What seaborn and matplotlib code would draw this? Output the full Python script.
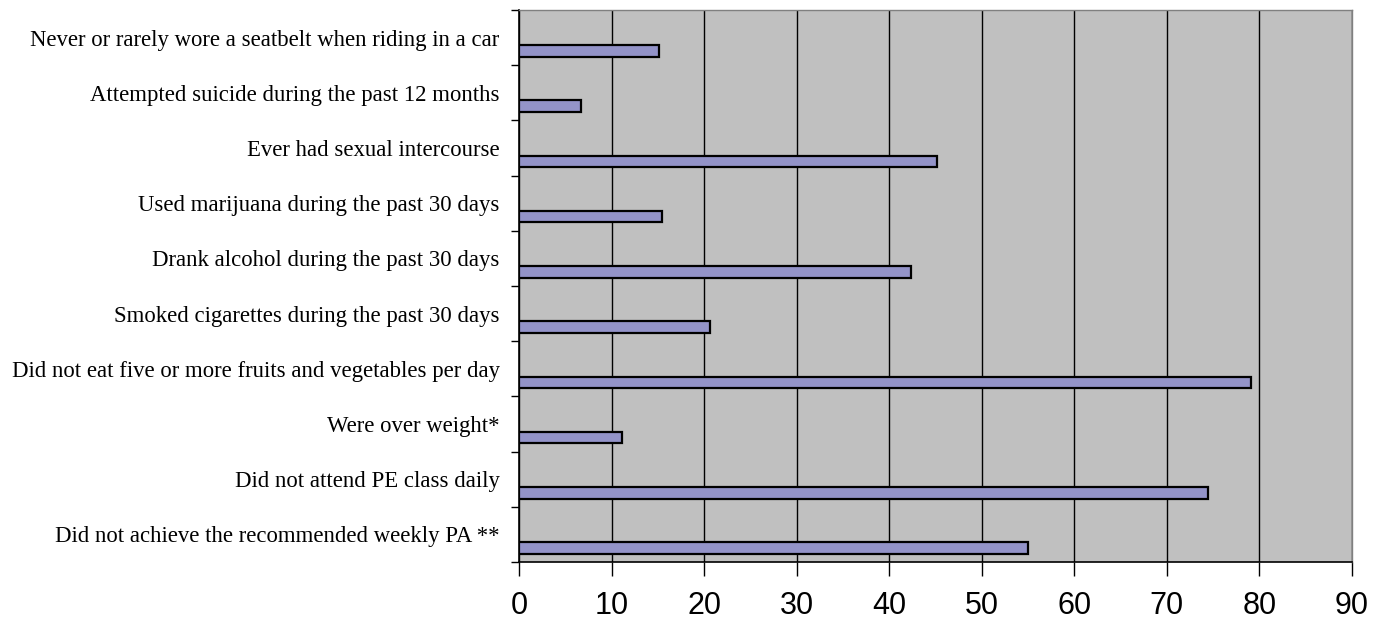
import numpy as np
import pandas as pd
import matplotlib.pyplot as plt
import seaborn as sns

sns.set_style("ticks")
plt.rcParams["font.family"] = ["Liberation Serif", "DejaVu Serif"]
plt.rcParams["text.color"] = "black"
plt.rcParams["xtick.labelcolor"] = "black"
plt.rcParams["ytick.labelcolor"] = "black"

categories = [
    "Never or rarely wore a seatbelt when riding in a car",
    "Attempted suicide during the past 12 months",
    "Ever had sexual intercourse",
    "Used marijuana during the past 30 days",
    "Drank alcohol during the past 30 days",
    "Smoked cigarettes during the past 30 days",
    "Did not eat five or more fruits and vegetables per day",
    "Were over weight*",
    "Did not attend PE class daily",
    "Did not achieve the recommended weekly PA **",
]
percentages = [15.1, 6.7, 45.2, 15.4, 42.4, 20.6, 79.1, 11.1, 74.4, 55.0]
x_ticks = [0, 10, 20, 30, 40, 50, 60, 70, 80, 90]

# bars sit in the lower part of each category slot (Excel style)
slots = np.arange(len(categories))
df = pd.DataFrame({"category": categories, "percent": percentages, "slot": slots + 0.245})

fig = plt.figure(figsize=(13.86, 6.21), dpi=100)
ax = fig.add_axes([0.3745, 0.095, 0.601, 0.889])
ax.set_facecolor("#C0C0C0")

sns.barplot(data=df, x="percent", y="slot", orient="h", native_scale=True,
            width=0.21, color="#9393C8", saturation=1, edgecolor="black",
            linewidth=1.6, ax=ax, zorder=3)

ax.set_xlim(0, 90)
ax.set_ylim(len(categories) - 0.5, -0.5)

ax.set_xticks(x_ticks)
ax.set_xticklabels([str(t) for t in x_ticks], family="Liberation Sans", fontsize=22)
ax.tick_params(axis="x", length=10, width=1, color="black", pad=11)

ax.set_yticks(slots)
ax.set_yticklabels(categories, fontsize=16.4)
ax.set_yticks(np.arange(-0.5, len(categories), 1), minor=True)
ax.tick_params(axis="y", which="major", length=0, pad=14)
ax.tick_params(axis="y", which="minor", length=6, width=1, color="black")

ax.grid(axis="x", color="black", linewidth=1, zorder=1)
ax.set_axisbelow(True)

for side in ["left", "bottom"]:
    ax.spines[side].set_color("black")
    ax.spines[side].set_linewidth(1.2)
for side in ["top", "right"]:
    ax.spines[side].set_color("#808080")
    ax.spines[side].set_linewidth(1)

ax.set_xlabel("")
ax.set_ylabel("")

fig.savefig("out.png", dpi=100)
